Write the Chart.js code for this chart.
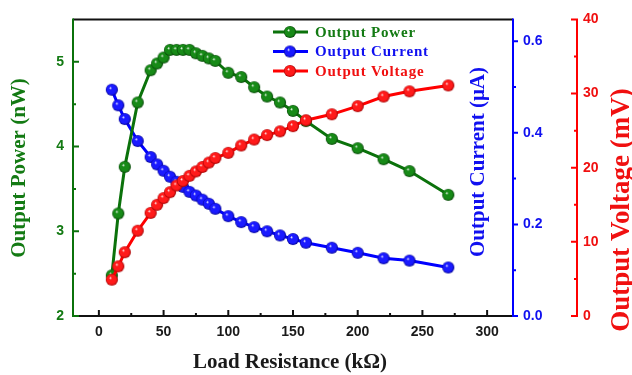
<!DOCTYPE html>
<html>
<head>
<meta charset="utf-8">
<script src="https://cdn.jsdelivr.net/npm/chart.js@4.4.1/dist/chart.umd.min.js"></script>
<style>
  html, body { margin: 0; padding: 0; background: #fff; }
  #wrap { width: 632px; height: 375px; }
</style>
</head>
<body>
<div id="wrap"><canvas id="chart"></canvas></div>
<script>
// load resistance (kOhm)
const resistance = [10, 15, 20, 30, 40, 45, 50, 55, 60, 65, 70, 75, 80, 85, 90, 100, 110, 120, 130, 140, 150, 160, 180, 200, 220, 240, 270];
// output power (nW)
const power = [2.48, 3.21, 3.76, 4.52, 4.90, 4.98, 5.05, 5.14, 5.14, 5.14, 5.14, 5.10, 5.07, 5.04, 5.01, 4.87, 4.82, 4.70, 4.59, 4.52, 4.42, 4.30, 4.09, 3.98, 3.85, 3.71, 3.43];
// output current (uA)
const current = [0.494, 0.460, 0.430, 0.382, 0.347, 0.331, 0.317, 0.304, 0.293, 0.282, 0.271, 0.263, 0.254, 0.245, 0.234, 0.218, 0.205, 0.194, 0.185, 0.176, 0.168, 0.160, 0.149, 0.138, 0.126, 0.121, 0.106];
// output voltage (mV)
const voltage = [4.9, 6.7, 8.6, 11.5, 13.9, 15.0, 15.9, 16.7, 17.6, 18.2, 18.9, 19.5, 20.1, 20.7, 21.3, 22.0, 23.0, 23.8, 24.4, 24.9, 25.6, 26.4, 27.2, 28.3, 29.6, 30.3, 31.1];

const xTicks = [0, 50, 100, 150, 200, 250, 300];
const xMinor = [25, 75, 125, 175, 225, 275];
const powerTicks = [2, 3, 4, 5];
const powerMinor = [2.5, 3.5, 4.5];
const currentTicks = [0, 0.2, 0.4, 0.6];
const currentMinor = [0.1, 0.3, 0.5];
const voltageTicks = [0, 10, 20, 30, 40];
const voltageMinor = [5, 15, 25, 35];

const seriesNames = ['Output Power', 'Output Current', 'Output Voltage'];

const GREEN = '#0b720b';
const BLUE = '#0000ff';
const RED = '#ff0000';

function makeBall(color, dark) {
    const size = 14, r = 6.1;
    const c = document.createElement('canvas');
    c.width = size;
    c.height = size;
    const ctx = c.getContext('2d');
    const g = ctx.createRadialGradient(size / 2 - 1.7, size / 2 - 1.9, 0.2, size / 2, size / 2, r);
    g.addColorStop(0, '#ffffff');
    g.addColorStop(0.22, color);
    g.addColorStop(0.75, color);
    g.addColorStop(1, dark);
    ctx.fillStyle = g;
    ctx.beginPath();
    ctx.arc(size / 2, size / 2, r, 0, Math.PI * 2);
    ctx.fill();
    return c;
}

const balls = {
    green: makeBall('#178a17', '#064006'),
    blue: makeBall('#1a1aff', '#00008a'),
    red: makeBall('#ff1a1a', '#9a0000')
};

function pts(ys) {
    return resistance.map((x, i) => ({ x: x, y: ys[i] }));
}

function setTicks(list) {
    return scale => { scale.ticks = list.map(v => ({ value: v })); };
}

function fixSize(prop, v) {
    return scale => { scale[prop] = v; };
}

const tickFont = { family: 'Liberation Sans', size: 14, weight: 'bold' };

const decor = {
    id: 'decor',
    beforeDatasetsDraw(chart) {
        const ctx = chart.ctx;
        const ca = chart.chartArea;
        const sx = chart.scales.x, sp = chart.scales.yP, sc = chart.scales.yC, sv = chart.scales.yV;
        const redX = sv.left + 5;
        ctx.save();
        ctx.lineWidth = 2;
        ctx.lineCap = 'butt';
        // frame top and bottom
        ctx.strokeStyle = '#111';
        ctx.beginPath();
        ctx.moveTo(ca.left, ca.top); ctx.lineTo(ca.right, ca.top);
        ctx.moveTo(ca.left, ca.bottom); ctx.lineTo(ca.right, ca.bottom);
        ctx.stroke();
        ctx.beginPath();
        xTicks.forEach(v => { const p = sx.getPixelForValue(v); ctx.moveTo(p, ca.bottom); ctx.lineTo(p, ca.bottom - 6); });
        xMinor.forEach(v => { const p = sx.getPixelForValue(v); ctx.moveTo(p, ca.bottom); ctx.lineTo(p, ca.bottom - 3); });
        ctx.stroke();
        // left (power)
        ctx.strokeStyle = GREEN;
        ctx.beginPath();
        ctx.moveTo(ca.left, ca.top - 1); ctx.lineTo(ca.left, ca.bottom + 1);
        powerTicks.forEach(v => { const p = sp.getPixelForValue(v); ctx.moveTo(ca.left, p); ctx.lineTo(ca.left + 6, p); });
        powerMinor.forEach(v => { const p = sp.getPixelForValue(v); ctx.moveTo(ca.left, p); ctx.lineTo(ca.left + 3, p); });
        ctx.stroke();
        // right (current)
        ctx.strokeStyle = BLUE;
        ctx.beginPath();
        ctx.moveTo(ca.right, ca.top - 1); ctx.lineTo(ca.right, ca.bottom + 1);
        currentTicks.forEach(v => { const p = sc.getPixelForValue(v); ctx.moveTo(ca.right, p); ctx.lineTo(ca.right + 5, p); });
        currentMinor.forEach(v => { const p = sc.getPixelForValue(v); ctx.moveTo(ca.right, p); ctx.lineTo(ca.right + 3, p); });
        ctx.stroke();
        // far right (voltage)
        ctx.strokeStyle = RED;
        ctx.beginPath();
        ctx.moveTo(redX, ca.top - 1); ctx.lineTo(redX, ca.bottom + 1);
        voltageTicks.forEach(v => { const p = sv.getPixelForValue(v); ctx.moveTo(redX, p); ctx.lineTo(redX - 6, p); });
        voltageMinor.forEach(v => { const p = sv.getPixelForValue(v); ctx.moveTo(redX, p); ctx.lineTo(redX - 3, p); });
        ctx.stroke();
        ctx.restore();
    },
    afterDraw(chart) {
        const ctx = chart.ctx;
        ctx.save();
        ctx.textAlign = 'center';
        ctx.textBaseline = 'middle';

        function vText(text, x, y, size, color) {
            ctx.save();
            ctx.translate(x, y);
            ctx.rotate(-Math.PI / 2);
            ctx.font = 'bold ' + size + 'px "Liberation Serif"';
            ctx.fillStyle = color;
            ctx.fillText(text, 0, 0);
            ctx.restore();
        }
        vText('Output Power (nW)', 20, 168, 21, '#137a13');
        vText('Output Current (\u03bcA)', 479, 162, 21, '#1010f0');
        vText('Output Voltage (mV)', 622, 210, 27, '#f01010');

        ctx.font = 'bold 21px "Liberation Serif"';
        ctx.fillStyle = '#1a1a1a';
        ctx.fillText('Load Resistance (k\u03a9)', 290, 363);

        // legend
        const items = [
            { name: seriesNames[0], color: GREEN, text: '#137a13', ball: balls.green },
            { name: seriesNames[1], color: BLUE, text: '#1010f0', ball: balls.blue },
            { name: seriesNames[2], color: RED, text: '#f01010', ball: balls.red }
        ];
        ctx.textAlign = 'left';
        ctx.font = 'bold 15px "Liberation Serif"';
        ctx.letterSpacing = '0.8px';
        items.forEach((it, i) => {
            const y = 32 + i * 19.5;
            ctx.strokeStyle = it.color;
            ctx.lineWidth = 3;
            ctx.beginPath();
            ctx.moveTo(273, y); ctx.lineTo(308, y);
            ctx.stroke();
            ctx.drawImage(it.ball, 290 - 7, y - 7);
            ctx.fillStyle = it.text;
            ctx.fillText(it.name, 315, y + 1);
        });
        ctx.restore();
    }
};

function initChart() {
    const ctx = document.getElementById('chart').getContext('2d');
    new Chart(ctx, {
        type: 'line',
        data: {
            datasets: [
                {
                    label: seriesNames[0],
                    data: pts(power),
                    yAxisID: 'yP',
                    borderColor: GREEN,
                    borderWidth: 3,
                    pointStyle: balls.green,
                    order: 1
                },
                {
                    label: seriesNames[1],
                    data: pts(current),
                    yAxisID: 'yC',
                    borderColor: BLUE,
                    borderWidth: 3,
                    pointStyle: balls.blue,
                    order: 2
                },
                {
                    label: seriesNames[2],
                    data: pts(voltage),
                    yAxisID: 'yV',
                    borderColor: RED,
                    borderWidth: 3,
                    pointStyle: balls.red,
                    order: 0
                }
            ]
        },
        options: {
            responsive: true,
            maintainAspectRatio: false,
            animation: false,
            layout: { padding: { top: 15 } },
            plugins: {
                legend: { display: false },
                tooltip: { enabled: false }
            },
            scales: {
                x: {
                    type: 'linear',
                    min: -20,
                    max: 320,
                    afterBuildTicks: setTicks(xTicks),
                    afterFit: fixSize('height', 59),
                    grid: { display: false, drawTicks: false },
                    border: { display: false },
                    ticks: { color: '#1a1a1a', font: tickFont, padding: 8, maxRotation: 0, autoSkip: false }
                },
                yP: {
                    type: 'linear',
                    position: 'left',
                    min: 2,
                    max: 5.5,
                    afterBuildTicks: setTicks(powerTicks),
                    afterFit: fixSize('width', 73),
                    grid: { display: false, drawTicks: false },
                    border: { display: false },
                    ticks: { color: '#137a13', font: tickFont, padding: 9, autoSkip: false }
                },
                yC: {
                    type: 'linear',
                    position: 'right',
                    weight: 0,
                    min: 0,
                    max: 0.6475,
                    afterBuildTicks: setTicks(currentTicks),
                    afterFit: fixSize('width', 59),
                    grid: { display: false, drawTicks: false },
                    border: { display: false },
                    ticks: {
                        color: '#1010f0', font: tickFont, padding: 10, autoSkip: false,
                        callback: v => v.toFixed(1)
                    }
                },
                yV: {
                    type: 'linear',
                    position: 'right',
                    weight: 1,
                    min: 0,
                    max: 40,
                    afterBuildTicks: setTicks(voltageTicks),
                    afterFit: fixSize('width', 60),
                    grid: { display: false, drawTicks: false },
                    border: { display: false },
                    ticks: { color: '#f01010', font: tickFont, padding: 11, autoSkip: false }
                }
            },
            elements: {
                line: { tension: 0 },
                point: { radius: 6 }
            }
        },
        plugins: [decor]
    });
}

document.addEventListener('DOMContentLoaded', initChart);
</script>
</body>
</html>
